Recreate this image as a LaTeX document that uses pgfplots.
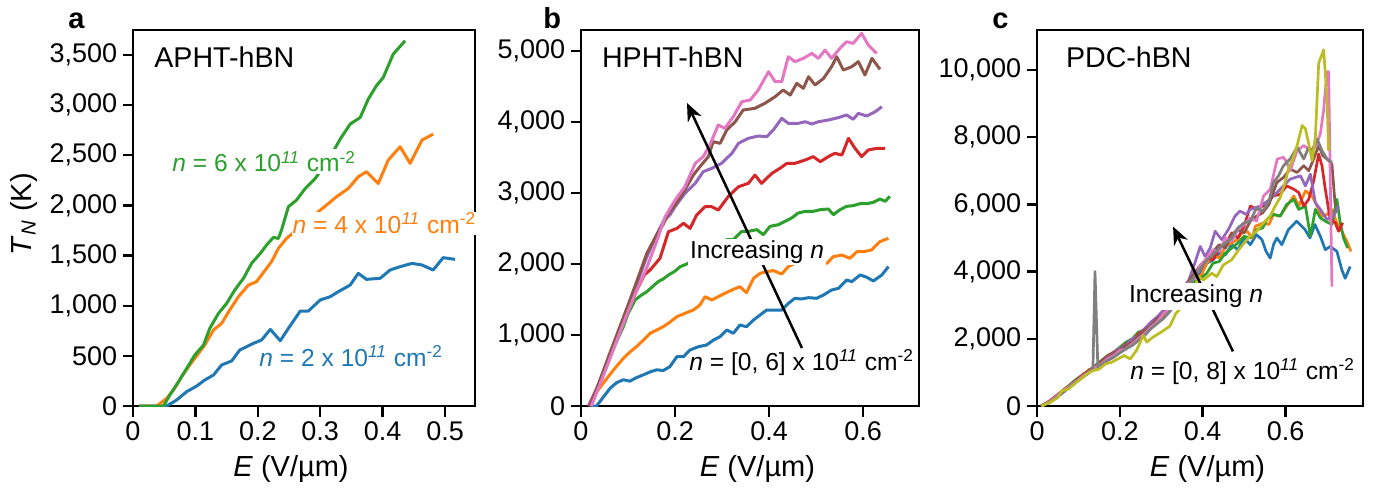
\documentclass[border=0pt]{standalone}
\usepackage{fontspec}
\setmainfont{Liberation Sans}
\usepackage{pgfplots}
\pgfplotsset{compat=1.18}
\usetikzlibrary{arrows.meta}
\definecolor{tblue}{HTML}{1F77B4}
\definecolor{torange}{HTML}{FF7F0E}
\definecolor{tgreen}{HTML}{2CA02C}
\definecolor{tred}{HTML}{D62728}
\definecolor{tpurple}{HTML}{9467BD}
\definecolor{tbrown}{HTML}{8C564B}
\definecolor{tpink}{HTML}{E377C2}
\definecolor{tgray}{HTML}{7F7F7F}
\definecolor{tolive}{HTML}{BCBD22}
\newcommand{\annfont}{\fontsize{12.3}{14}\selectfont}
\pgfplotsset{
 panel/.style={
  scale only axis, anchor=south west,
  axis line style={line width=1.2pt},
  tick style={line width=1.2pt, black},
  tick align=outside, major tick length=5.25pt,
  xtick pos=left, ytick pos=left,
  xmin=0, ymin=0,
  scaled ticks=false,
  /pgf/number format/1000 sep={,},
  /pgf/number format/assume math mode=true,
  tick label style={font=\fontsize{13.5}{16}\selectfont, inner sep=2.5pt},
  label style={font=\fontsize{14.5}{17}\selectfont},
  xlabel={\textit{E} (V/µm)},
  every axis plot/.append style={line width=1.5pt, line join=round, mark=none},
  clip mode=individual,
 }
}
\begin{document}
\begin{tikzpicture}
\useasboundingbox (0,0) rectangle (691pt,244.5pt);
% ---------------- panel a
\begin{axis}[panel, at={(66.5pt,41.5pt)}, width=171pt, height=188pt,
  xmax=0.548, ymax=3749,
  xtick={0,0.1,0.2,0.3,0.4,0.5}, ytick={0,500,1000,1500,2000,2500,3000,3500},
  ylabel={\textit{T}\textsubscript{\textit{N}} (K)},
  ylabel style={at={(axis description cs:-0.319,0.51)}, anchor=center},
  xlabel style={at={(axis description cs:0.462,-0.188)}, anchor=base}]
\addplot[tblue] coordinates {(0.01,0)(0.054,0)(0.070,60)(0.086,143)(0.102,199)(0.115,259)(0.129,309)(0.142,409)(0.158,449)(0.171,558)(0.193,625)(0.206,658)(0.220,764)(0.236,651)(0.249,774)(0.268,947)(0.281,947)(0.300,1057)(0.316,1090)(0.329,1140)(0.348,1206)(0.361,1323)(0.374,1263)(0.396,1273)(0.412,1356)(0.428,1389)(0.447,1422)(0.463,1406)(0.481,1356)(0.497,1479)(0.516,1462)};
\addplot[torange] coordinates {(0.01,0)(0.038,0)(0.054,76)(0.065,160)(0.078,292)(0.091,409)(0.107,542)(0.115,608)(0.129,758)(0.142,824)(0.155,957)(0.169,1090)(0.185,1206)(0.198,1240)(0.212,1356)(0.222,1439)(0.233,1572)(0.246,1671)(0.271,1800)(0.297,1937)(0.310,2003)(0.326,2086)(0.345,2169)(0.361,2286)(0.374,2336)(0.393,2219)(0.409,2452)(0.428,2585)(0.444,2419)(0.463,2651)(0.481,2711)};
\addplot[tgreen] coordinates {(0.01,0)(0.049,0)(0.059,110)(0.073,243)(0.086,375)(0.099,508)(0.113,608)(0.123,774)(0.137,924)(0.150,1023)(0.163,1156)(0.177,1273)(0.190,1422)(0.204,1522)(0.214,1605)(0.225,1681)(0.233,1671)(0.238,1754)(0.249,1987)(0.262,2053)(0.276,2169)(0.292,2269)(0.313,2450)(0.332,2661)(0.348,2811)(0.364,2877)(0.377,3060)(0.390,3193)(0.401,3276)(0.417,3509)(0.436,3642)};
\node[anchor=base west, font=\fontsize{14.3}{17}\selectfont, inner sep=0pt] at (rel axis cs:0.0614,0.9016) {APHT-hBN};
\node[anchor=base west, fill=white, inner sep=1pt, text=tgreen, font=\annfont] at (axis cs:0.0593,2336) {\textit{n} = 6 x 10\textsuperscript{\textit{11}} cm\textsuperscript{-2}};
\node[anchor=base west, fill=white, inner sep=0.5pt, text=torange, font=\annfont] at (axis cs:0.2535,1722) {\textit{n} = 4 x 10\textsuperscript{\textit{11}} cm\textsuperscript{-2}};
\node[anchor=base west, inner sep=1pt, text=tblue, font=\annfont] at (axis cs:0.1987,392) {\textit{n} = 2 x 10\textsuperscript{\textit{11}} cm\textsuperscript{-2}};
\end{axis}
% ---------------- panel b
\begin{axis}[panel, at={(290.5pt,41.5pt)}, width=169pt, height=188pt,
  xmax=0.719, ymax=5296,
  xtick={0,0.2,0.4,0.6}, ytick={0,1000,2000,3000,4000,5000},
  xlabel style={at={(axis description cs:0.522,-0.188)}, anchor=base}]
\addplot[tblue] coordinates {(0.02,0)(0.033,0)(0.048,130)(0.062,250)(0.076,330)(0.090,370)(0.104,350)(0.118,400)(0.133,440)(0.147,480)(0.161,510)(0.175,500)(0.189,554)(0.204,695)(0.218,695)(0.232,789)(0.250,836)(0.267,859)(0.282,930)(0.296,977)(0.310,1070)(0.324,1024)(0.338,1141)(0.352,1117)(0.367,1211)(0.381,1282)(0.395,1352)(0.409,1352)(0.427,1352)(0.441,1446)(0.455,1517)(0.469,1507)(0.484,1526)(0.501,1517)(0.516,1564)(0.533,1634)(0.548,1658)(0.565,1775)(0.576,1752)(0.594,1846)(0.608,1813)(0.622,1761)(0.640,1846)(0.654,1963)};
\addplot[torange] coordinates {(0.02,0)(0.026,130)(0.047,320)(0.069,507)(0.090,671)(0.104,760)(0.118,836)(0.133,930)(0.147,1023)(0.161,1070)(0.175,1117)(0.189,1180)(0.204,1258)(0.221,1305)(0.239,1352)(0.253,1423)(0.264,1540)(0.278,1493)(0.292,1540)(0.306,1587)(0.324,1643)(0.338,1681)(0.352,1596)(0.367,1798)(0.381,1869)(0.395,1892)(0.409,1907)(0.427,1859)(0.441,1963)(0.455,2010)(0.487,2050)(0.523,2010)(0.537,2104)(0.555,2127)(0.572,2080)(0.587,2174)(0.601,2174)(0.618,2198)(0.636,2315)(0.654,2362)};
\addplot[tgreen] coordinates {(0.02,0)(0.04,330)(0.06,660)(0.075,900)(0.090,1117)(0.100,1300)(0.115,1493)(0.128,1560)(0.140,1610)(0.152,1680)(0.164,1751)(0.175,1790)(0.186,1845)(0.200,1900)(0.211,1962)(0.225,2000)(0.250,2100)(0.280,2250)(0.310,2342)(0.324,2342)(0.342,2460)(0.356,2460)(0.374,2484)(0.388,2413)(0.402,2530)(0.420,2554)(0.434,2601)(0.448,2648)(0.462,2718)(0.477,2742)(0.494,2742)(0.509,2765)(0.526,2775)(0.537,2695)(0.551,2765)(0.565,2812)(0.579,2822)(0.594,2850)(0.608,2850)(0.622,2869)(0.636,2916)(0.647,2883)(0.657,2953)};
\addplot[tred] coordinates {(0.016,0)(0.04,340)(0.06,680)(0.08,1010)(0.10,1340)(0.12,1650)(0.135,1850)(0.147,1915)(0.168,2080)(0.186,2455)(0.204,2502)(0.218,2573)(0.232,2502)(0.246,2690)(0.264,2807)(0.278,2807)(0.292,2760)(0.313,2948)(0.335,3089)(0.356,3136)(0.370,3253)(0.384,3136)(0.406,3277)(0.423,3347)(0.438,3418)(0.455,3418)(0.477,3465)(0.494,3512)(0.509,3441)(0.526,3512)(0.540,3559)(0.555,3535)(0.569,3770)(0.583,3629)(0.597,3512)(0.611,3606)(0.629,3629)(0.647,3629)};
\addplot[tpurple] coordinates {(0.018,0)(0.04,350)(0.06,700)(0.08,1050)(0.10,1400)(0.12,1750)(0.14,2100)(0.16,2400)(0.175,2600)(0.189,2690)(0.200,2807)(0.221,2995)(0.243,3136)(0.260,3300)(0.278,3347)(0.299,3418)(0.321,3559)(0.335,3700)(0.356,3770)(0.377,3803)(0.395,3793)(0.409,3887)(0.427,4052)(0.441,3981)(0.462,3981)(0.477,4004)(0.491,3972)(0.505,4004)(0.526,4028)(0.547,4061)(0.565,4099)(0.579,4038)(0.590,4122)(0.608,4085)(0.626,4146)(0.640,4216)};
\addplot[tbrown] coordinates {(0.02,0)(0.04,360)(0.06,720)(0.08,1070)(0.10,1420)(0.12,1780)(0.14,2150)(0.16,2400)(0.175,2560)(0.186,2714)(0.200,2830)(0.221,3042)(0.239,3253)(0.253,3371)(0.271,3512)(0.281,3723)(0.296,3700)(0.310,3887)(0.328,4004)(0.345,4169)(0.370,4193)(0.391,4263)(0.413,4357)(0.430,4451)(0.445,4380)(0.459,4545)(0.473,4474)(0.484,4638)(0.498,4521)(0.516,4615)(0.533,4779)(0.544,4920)(0.558,4732)(0.576,4779)(0.590,4850)(0.604,4662)(0.619,4897)(0.636,4742)};
\addplot[tpink] coordinates {(0.022,0)(0.04,300)(0.06,640)(0.08,990)(0.10,1330)(0.12,1650)(0.14,1950)(0.16,2300)(0.179,2666)(0.200,2900)(0.221,3089)(0.243,3418)(0.260,3512)(0.274,3676)(0.292,3958)(0.306,3911)(0.324,4075)(0.342,4286)(0.360,4310)(0.377,4451)(0.399,4709)(0.413,4568)(0.427,4568)(0.441,4920)(0.455,4850)(0.473,4897)(0.491,4967)(0.505,4897)(0.519,5014)(0.533,4897)(0.551,5038)(0.565,5131)(0.579,5108)(0.597,5249)(0.611,5085)(0.629,4967)};
\node[anchor=base west, font=\fontsize{14.3}{17}\selectfont, inner sep=0pt] at (rel axis cs:0.0612,0.9016) {HPHT-hBN};
\draw[line width=1.25pt, -{Stealth[length=9pt,width=7.5pt]}] (axis cs:0.47,817) -- (axis cs:0.2255,4268);
\node[anchor=base, fill=white, inner sep=1pt, font=\annfont] at (axis cs:0.3745,2080) {Increasing \textit{n}};
\node[anchor=base west, inner sep=1pt, font=\annfont] at (axis cs:0.2255,507) {\textit{n} = [0, 6] x 10\textsuperscript{\textit{11}} cm\textsuperscript{-2}};
\end{axis}
% ---------------- panel c
\begin{axis}[panel, at={(518.5pt,41.5pt)}, width=163pt, height=188pt,
  xmax=0.787, ymax=11188,
  xtick={0,0.2,0.4,0.6}, ytick={0,2000,4000,6000,8000,10000},
  every axis plot/.append style={line width=1.35pt},
  xlabel style={at={(axis description cs:0.523,-0.188)}, anchor=base}]
\addplot[tblue] coordinates {(0.01,0)(0.03,100)(0.05,280)(0.065,430)(0.08,600)(0.095,720)(0.11,880)(0.125,1000)(0.14,1120)(0.155,1300)(0.17,1400)(0.185,1500)(0.20,1650)(0.215,1720)(0.23,1880)(0.245,2000)(0.26,2250)(0.275,2350)(0.29,2500)(0.305,2750)(0.32,2850)(0.335,3150)(0.35,3300)(0.365,3550)(0.38,3800)(0.395,3950)(0.41,4250)(0.425,4350)(0.44,4550)(0.455,4500)(0.47,4800)(0.485,4650)(0.50,5000)(0.515,4800)(0.53,5100)(0.543,4950)(0.553,4600)(0.563,4400)(0.571,4800)(0.579,5000)(0.591,4800)(0.607,5250)(0.627,5500)(0.647,5250)(0.659,5000)(0.671,5400)(0.684,5050)(0.696,4650)(0.708,4750)(0.724,4600)(0.736,4050)(0.744,3800)(0.756,4150)};
\addplot[torange] coordinates {(0.01,0)(0.03,150)(0.05,330)(0.065,500)(0.08,630)(0.095,780)(0.11,900)(0.125,1080)(0.14,1150)(0.155,1250)(0.17,1450)(0.185,1500)(0.20,1700)(0.215,1800)(0.23,1850)(0.245,2100)(0.26,2150)(0.275,2400)(0.29,2600)(0.305,2650)(0.32,2950)(0.335,3050)(0.35,3400)(0.365,3550)(0.38,3900)(0.395,3850)(0.41,4250)(0.425,4500)(0.44,4400)(0.455,4750)(0.47,4850)(0.483,4950)(0.495,5150)(0.507,5200)(0.52,5000)(0.527,5350)(0.547,5450)(0.56,5400)(0.571,5700)(0.587,5650)(0.603,5950)(0.62,6250)(0.632,5950)(0.648,6400)(0.664,6250)(0.676,5950)(0.688,5650)(0.70,5700)(0.712,5850)(0.724,5450)(0.736,5200)(0.748,4900)(0.758,4600)};
\addplot[tgreen] coordinates {(0.01,0)(0.03,130)(0.05,300)(0.065,480)(0.08,640)(0.095,800)(0.11,920)(0.125,1050)(0.14,1200)(0.155,1350)(0.17,1500)(0.185,1600)(0.20,1750)(0.215,1900)(0.23,2000)(0.245,2200)(0.26,2250)(0.275,2450)(0.29,2550)(0.305,2800)(0.32,2900)(0.335,3150)(0.35,3350)(0.365,3500)(0.38,3700)(0.395,3800)(0.41,3950)(0.425,4250)(0.44,4300)(0.455,4550)(0.47,4700)(0.485,4850)(0.50,5050)(0.515,5000)(0.531,5250)(0.545,5300)(0.555,5550)(0.571,5700)(0.587,5650)(0.603,6000)(0.62,6150)(0.632,5850)(0.648,5950)(0.66,5050)(0.672,5850)(0.684,5600)(0.696,5500)(0.712,5400)(0.724,6150)(0.732,5450)(0.740,5000)(0.750,4700)};
\addplot[tred] coordinates {(0.01,0)(0.03,140)(0.05,340)(0.065,470)(0.08,620)(0.095,770)(0.11,930)(0.125,1050)(0.14,1180)(0.155,1320)(0.17,1480)(0.185,1600)(0.20,1700)(0.215,1850)(0.23,1950)(0.245,2150)(0.26,2300)(0.275,2450)(0.29,2600)(0.305,2800)(0.32,2950)(0.335,3150)(0.35,3350)(0.365,3650)(0.38,3850)(0.395,4100)(0.41,4400)(0.425,4350)(0.44,4700)(0.455,4800)(0.47,5150)(0.485,5000)(0.50,5350)(0.515,5950)(0.531,5850)(0.551,6000)(0.571,6250)(0.587,6300)(0.603,6550)(0.62,6450)(0.632,6350)(0.644,5950)(0.656,6150)(0.668,6700)(0.68,7500)(0.688,7150)(0.696,6450)(0.708,5550)(0.72,5450)(0.728,5200)(0.738,5450)};
\addplot[tpurple] coordinates {(0.01,0)(0.03,110)(0.05,320)(0.065,450)(0.08,610)(0.095,750)(0.11,900)(0.125,1030)(0.14,1170)(0.155,1300)(0.17,1450)(0.185,1580)(0.20,1720)(0.215,1820)(0.23,2000)(0.245,2100)(0.26,2300)(0.275,2500)(0.29,2650)(0.305,2850)(0.32,3050)(0.335,3300)(0.35,3500)(0.365,3700)(0.381,4250)(0.394,4750)(0.406,4450)(0.418,4700)(0.43,5200)(0.446,4950)(0.462,5250)(0.478,5650)(0.49,5800)(0.505,5700)(0.515,5850)(0.539,5950)(0.563,6150)(0.587,6450)(0.611,6750)(0.636,6850)(0.648,6550)(0.66,6900)(0.672,6050)(0.684,5850)(0.70,5550)(0.716,5650)(0.728,5950)};
\addplot[tbrown] coordinates {(0.01,0)(0.03,130)(0.05,300)(0.065,460)(0.08,600)(0.095,760)(0.11,900)(0.125,1040)(0.14,1160)(0.155,1300)(0.17,1420)(0.185,1560)(0.20,1680)(0.215,1800)(0.23,1900)(0.245,2100)(0.26,2250)(0.275,2400)(0.29,2600)(0.305,2750)(0.32,2950)(0.335,3200)(0.35,3450)(0.365,3700)(0.38,3950)(0.395,4200)(0.41,4350)(0.425,4600)(0.44,4800)(0.455,4700)(0.47,5100)(0.485,5250)(0.50,5150)(0.515,5500)(0.53,5650)(0.545,5750)(0.56,6000)(0.579,6650)(0.595,6800)(0.611,7050)(0.628,6950)(0.644,7150)(0.656,7000)(0.668,7350)(0.68,7750)(0.69,7450)(0.70,7350)(0.712,7200)(0.72,5950)};
\addplot[tpink] coordinates {(0.01,0)(0.03,120)(0.05,310)(0.065,470)(0.08,600)(0.095,740)(0.11,880)(0.125,1000)(0.14,1150)(0.155,1250)(0.17,1400)(0.185,1500)(0.20,1650)(0.215,1700)(0.23,1850)(0.245,2000)(0.26,2150)(0.275,2350)(0.29,2500)(0.305,2750)(0.32,2900)(0.335,3150)(0.35,3400)(0.365,3650)(0.38,3800)(0.395,4200)(0.41,4400)(0.425,4650)(0.44,4600)(0.455,5000)(0.47,4900)(0.485,5250)(0.50,5400)(0.515,5600)(0.53,5500)(0.547,6250)(0.563,6450)(0.58,7350)(0.595,7400)(0.603,7250)(0.611,7000)(0.628,7600)(0.644,7750)(0.66,7600)(0.672,7700)(0.684,8100)(0.692,8800)(0.70,9950)(0.704,9950)(0.712,3550)};
\addplot[tgray] coordinates {(0.01,0)(0.03,100)(0.05,280)(0.065,420)(0.08,580)(0.095,720)(0.11,850)(0.125,980)(0.135,1100)(0.14,4000)(0.147,1100)(0.155,1220)(0.17,1350)(0.185,1450)(0.20,1580)(0.215,1700)(0.23,1800)(0.245,1950)(0.26,2100)(0.275,2300)(0.29,2450)(0.305,2600)(0.32,2800)(0.335,3050)(0.35,3300)(0.365,3600)(0.38,3850)(0.395,4100)(0.41,4350)(0.425,4500)(0.44,4700)(0.455,4850)(0.47,5000)(0.485,5300)(0.50,5450)(0.515,5500)(0.53,5900)(0.545,5800)(0.56,6100)(0.571,6650)(0.583,6850)(0.595,7150)(0.611,7350)(0.628,7700)(0.644,7350)(0.656,7700)(0.664,7600)(0.676,7950)(0.688,7600)(0.70,7350)(0.712,7250)};
\addplot[tolive] coordinates {(0.01,0)(0.03,100)(0.05,250)(0.06,450)(0.075,500)(0.09,650)(0.105,800)(0.12,950)(0.135,1050)(0.15,1100)(0.165,1250)(0.18,1300)(0.195,1400)(0.21,1500)(0.225,1400)(0.24,1650)(0.257,2100)(0.265,1900)(0.28,2050)(0.30,2200)(0.321,2380)(0.335,2750)(0.35,2950)(0.365,3300)(0.38,3500)(0.39,3850)(0.402,3750)(0.422,3950)(0.434,3850)(0.45,4200)(0.47,4350)(0.49,4700)(0.51,5000)(0.53,5200)(0.547,5450)(0.563,5650)(0.575,5950)(0.587,6200)(0.599,6650)(0.607,7050)(0.616,7300)(0.628,7750)(0.64,8350)(0.648,8250)(0.656,7800)(0.664,7300)(0.672,8000)(0.68,10200)(0.692,10600)(0.70,9200)(0.704,7600)};
\node[anchor=base west, font=\fontsize{14.3}{17}\selectfont, inner sep=0pt] at (rel axis cs:0.088,0.9016) {PDC-hBN};
\draw[line width=1.25pt, -{Stealth[length=9pt,width=7.5pt]}] (axis cs:0.473,1625) -- (axis cs:0.3285,5337);
\node[anchor=base, fill=white, inner sep=1pt, font=\annfont] at (axis cs:0.384,3071) {Increasing \textit{n}};
\node[anchor=base west, inner sep=1pt, font=\annfont] at (axis cs:0.2198,793) {\textit{n} = [0, 8] x 10\textsuperscript{\textit{11}} cm\textsuperscript{-2}};
\end{axis}
% panel letters
\node[anchor=base west, inner sep=0pt, font=\bfseries\fontsize{14.5}{17}\selectfont] at (34pt,230.3pt) {a};
\node[anchor=base west, inner sep=0pt, font=\bfseries\fontsize{14.5}{17}\selectfont] at (271.5pt,230.3pt) {b};
\node[anchor=base west, inner sep=0pt, font=\bfseries\fontsize{14.5}{17}\selectfont] at (496pt,230.3pt) {c};
\end{tikzpicture}
\end{document}
